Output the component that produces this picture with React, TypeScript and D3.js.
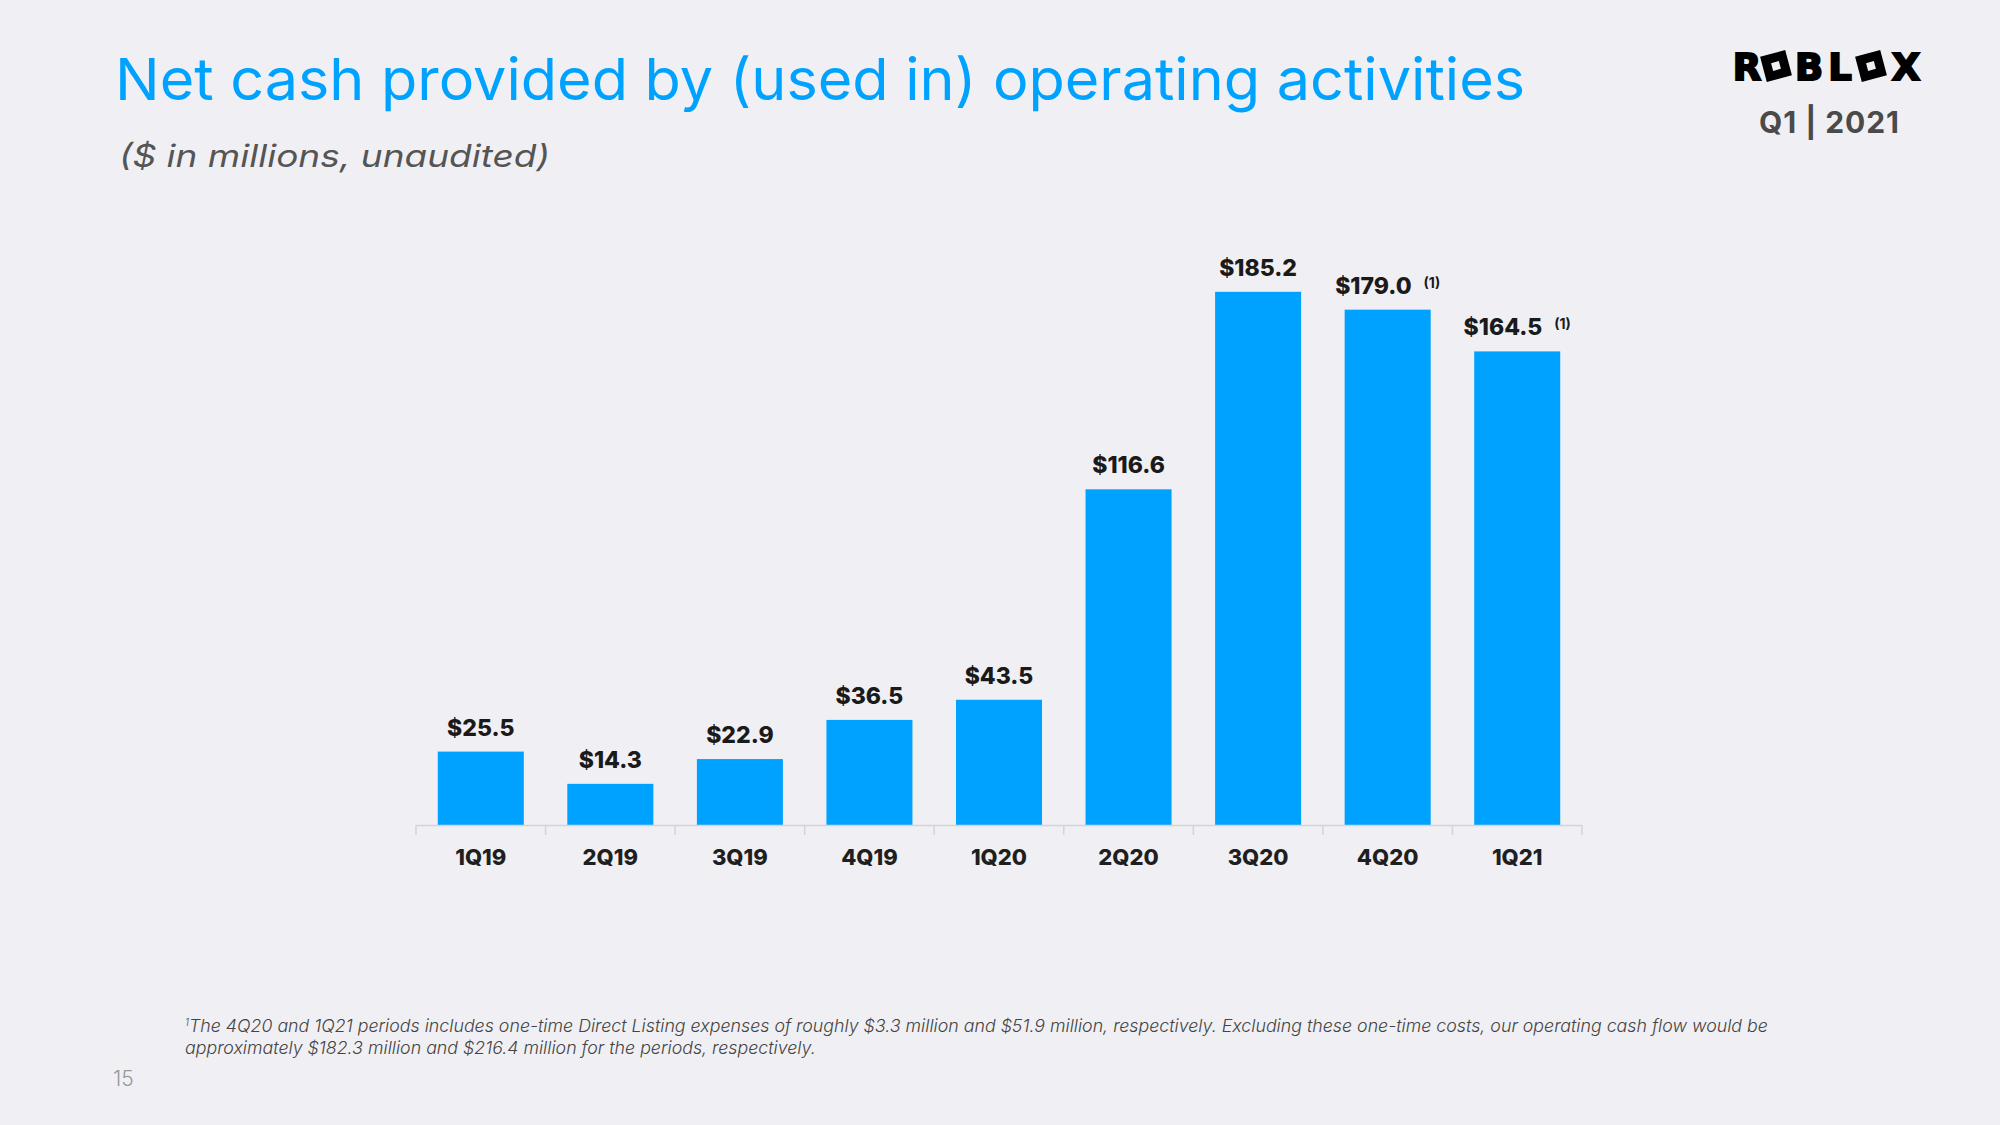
import React from "react";
import * as d3 from "d3";

const categories = ["1Q19", "2Q19", "3Q19", "4Q19", "1Q20", "2Q20", "3Q20", "4Q20", "1Q21"];
const values = [25.5, 14.3, 22.9, 36.5, 43.5, 116.6, 185.2, 179.0, 164.5];
const valueLabels = ["$25.5", "$14.3", "$22.9", "$36.5", "$43.5", "$116.6", "$185.2", "$179.0", "$164.5"];
const footnoteFlags = [false, false, false, false, false, false, false, true, true];

const titleText = "Net cash provided by (used in) operating activities";
const subtitleText = "($ in millions,  unaudited)";
const footnoteLine1 =
  "The 4Q20 and 1Q21 periods includes one-time Direct Listing expenses of roughly $3.3 million and $51.9 million, respectively. Excluding these one-time costs, our operating cash flow would be";
const footnoteLine2 = "approximately $182.3 million and $216.4 million for the periods, respectively.";

const W = 2000;
const H = 1125;
const BG = "#F0F0F4";
const BLUE = "#00A2FF";
const FONT = "Inter, 'Noto Sans', sans-serif";

export default function App() {
  const x = d3
    .scaleBand<string>()
    .domain(categories)
    .range([416, 1582])
    .paddingInner(0.336)
    .paddingOuter(0.168);
  const y = d3.scaleLinear().domain([0, 200]).range([825, 825 - 200 * 2.879]);
  const step = x.step();
  const x0 = 416;
  const tickXs = d3.range(categories.length + 1).map((i) => x0 + i * step);

  const logoGlyphs = [
    { t: "R", x: 1747 },
    { t: "O", x: 1776 },
    { t: "B", x: 1809 },
    { t: "L", x: 1840 },
    { t: "O", x: 1871 },
    { t: "X", x: 1906 },
  ];

  return (
    <svg
      width={W}
      height={H}
      viewBox={`0 0 ${W} ${H}`}
      style={{ position: "fixed", top: 0, left: 0, display: "block" }}
    >
      <rect x={0} y={0} width={W} height={H} fill={BG} />

      {/* Title */}
      <text
        x={115}
        y={100}
        fontFamily={FONT}
        fontSize={58}
        fill={BLUE}
        textLength={1410}
        lengthAdjust="spacingAndGlyphs"
      >
        {titleText}
      </text>
      <text
        x={119}
        y={167}
        fontFamily={FONT}
        fontStyle="italic"
        fontSize={31}
        fill="#555"
        textLength={431}
        lengthAdjust="spacingAndGlyphs"
      >
        {subtitleText}
      </text>

      {/* Logo */}
      <g>
        {logoGlyphs.map((g, i) =>
          g.t === "O" ? (
            <g key={i} transform={`translate(${g.x},66) rotate(-15)`}>
              <rect x={-13} y={-13} width={26} height={26} fill="#000" />
              <rect x={-4} y={-4} width={8} height={8} fill={BG} />
            </g>
          ) : (
            <text
              key={i}
              x={g.x}
              y={80}
              textAnchor="middle"
              fontFamily="'DejaVu Sans', sans-serif"
              fontWeight={900}
              fontSize={37}
              fill="#000"
              stroke="#000"
              strokeWidth={2}
            >
              {g.t}
            </text>
          )
        )}
      </g>
      <text
        x={1829}
        y={133}
        textAnchor="middle"
        fontFamily={FONT}
        fontWeight={700}
        fontSize={30}
        fill="#4a4a4a"
        textLength={140}
        lengthAdjust="spacing"
      >
        Q1 | 2021
      </text>

      {/* Bars */}
      {categories.map((c, i) => (
        <rect
          key={c}
          x={x(c)}
          y={y(values[i])}
          width={x.bandwidth()}
          height={y(0) - y(values[i])}
          fill={BLUE}
        />
      ))}

      {/* Axis */}
      <line x1={x0} x2={x0 + step * categories.length} y1={825.5} y2={825.5} stroke="#D4D4D8" strokeWidth={1.5} />
      {tickXs.map((tx, i) => (
        <line key={i} x1={tx} x2={tx} y1={825} y2={835} stroke="#D4D4D8" strokeWidth={1.5} />
      ))}
      {categories.map((c) => (
        <text
          key={c}
          x={(x(c) as number) + x.bandwidth() / 2}
          y={865}
          textAnchor="middle"
          fontFamily={FONT}
          fontWeight={800}
          fontSize={22}
          fill="#1f1f1f"
        >
          {c}
        </text>
      ))}

      {/* Value labels */}
      {categories.map((c, i) => (
        <text
          key={c}
          x={(x(c) as number) + x.bandwidth() / 2}
          y={y(values[i]) - 16}
          textAnchor="middle"
          fontFamily={FONT}
          fontWeight={800}
          fontSize={23}
          fill="#1a1a1a"
        >
          {valueLabels[i]}
          {footnoteFlags[i] ? (
            <tspan fontSize={14} fontWeight={700} dx={12} dy={-6}>
              (1)
            </tspan>
          ) : null}
        </text>
      ))}

      {/* Footnote */}
      <text x={185} y={1032} fontFamily={FONT} fontStyle="italic" fontWeight={300} fontSize={17.8} fill="#444">
        <tspan fontSize={10} dy={-6}>
          1
        </tspan>
        <tspan dy={6}>{footnoteLine1}</tspan>
      </text>
      <text
        x={185}
        y={1054}
        fontFamily={FONT}
        fontStyle="italic"
        fontWeight={300}
        fontSize={17.8}
        fill="#444"
      >
        {footnoteLine2}
      </text>

      {/* Page number */}
      <text x={113} y={1086} fontFamily={FONT} fontWeight={300} fontSize={21} fill="#999">
        15
      </text>
    </svg>
  );
}
